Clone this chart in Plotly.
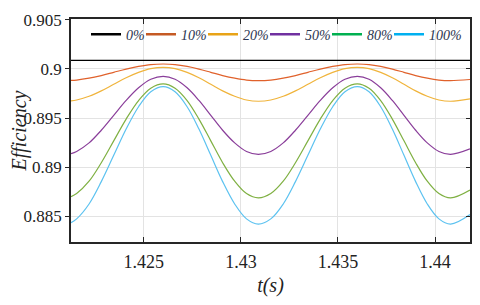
import plotly.graph_objects as go

# time samples (s)
t = [1.42125, 1.42154, 1.42218, 1.42281, 1.42345, 1.42409, 1.42473, 1.42536, 1.42600,
     1.42661, 1.42723, 1.42784, 1.42845, 1.42906, 1.42968, 1.43029, 1.43090,
     1.43154, 1.43218, 1.43281, 1.43345, 1.43409, 1.43473, 1.43536, 1.43600,
     1.43660, 1.43720, 1.43780, 1.43840, 1.43900, 1.43960, 1.44020, 1.44080, 1.44180]

eff_0 = [0.90088] * len(t)
eff_10 = [0.89883, 0.89887, 0.89906, 0.89933, 0.89966, 0.89999, 0.90026, 0.90045, 0.90051,
          0.90045, 0.90026, 0.89999, 0.89966, 0.89933, 0.89906, 0.89887, 0.89881,
          0.89887, 0.89906, 0.89933, 0.89966, 0.89999, 0.90026, 0.90045, 0.90051,
          0.90045, 0.90026, 0.89999, 0.89966, 0.89933, 0.89906, 0.89887, 0.89881, 0.89893]
eff_20 = [0.89674, 0.89684, 0.89722, 0.89777, 0.89844, 0.89910, 0.89965, 0.90003, 0.90016,
          0.90003, 0.89965, 0.89910, 0.89844, 0.89777, 0.89722, 0.89684, 0.89671,
          0.89684, 0.89722, 0.89777, 0.89844, 0.89910, 0.89965, 0.90003, 0.90016,
          0.90003, 0.89965, 0.89910, 0.89844, 0.89777, 0.89722, 0.89684, 0.89671, 0.89695]
eff_50 = [0.89137, 0.89159, 0.89246, 0.89375, 0.89527, 0.89679, 0.89808, 0.89895, 0.89925,
          0.89895, 0.89808, 0.89679, 0.89527, 0.89375, 0.89246, 0.89159, 0.89129,
          0.89159, 0.89246, 0.89375, 0.89527, 0.89679, 0.89808, 0.89895, 0.89925,
          0.89895, 0.89808, 0.89679, 0.89527, 0.89375, 0.89246, 0.89159, 0.89129, 0.89185]
eff_80 = [0.88697, 0.88729, 0.88855, 0.89044, 0.89267, 0.89489, 0.89678, 0.89804, 0.89848,
          0.89804, 0.89678, 0.89489, 0.89267, 0.89044, 0.88855, 0.88729, 0.88685,
          0.88729, 0.88855, 0.89044, 0.89267, 0.89489, 0.89678, 0.89804, 0.89848,
          0.89804, 0.89678, 0.89489, 0.89267, 0.89044, 0.88855, 0.88729, 0.88685, 0.88766]
eff_100 = [0.88432, 0.88471, 0.88623, 0.88851, 0.89119, 0.89387, 0.89615, 0.89767, 0.89820,
           0.89767, 0.89615, 0.89387, 0.89119, 0.88851, 0.88623, 0.88471, 0.88418,
           0.88471, 0.88623, 0.88851, 0.89119, 0.89387, 0.89615, 0.89767, 0.89820,
           0.89767, 0.89615, 0.89387, 0.89119, 0.88851, 0.88623, 0.88471, 0.88418, 0.88516]

labels = ["0%", "10%", "20%", "50%", "80%", "100%"]
series = [eff_0, eff_10, eff_20, eff_50, eff_80, eff_100]
line_colors = ["#000000", "#E0612B", "#F0B43C", "#8A3E9A", "#7FB042", "#5CC2F0"]
legend_colors = ["#000000", "#C55A24", "#E8A317", "#7030A0", "#00B050", "#00B0F0"]

x_ticks = [1.425, 1.43, 1.435, 1.44]
x_ticktext = ["1.425", "1.43", "1.435", "1.44"]
y_ticks = [0.885, 0.89, 0.895, 0.9, 0.905]
y_ticktext = ["0.885", "0.89", "0.895", "0.9", "0.905"]

serif = "Liberation Serif, Times New Roman, serif"
legend_font = dict(family=serif, size=14, color="#2b3550", style="italic")
legend_x = [0.0376, 0.1754, 0.3308, 0.4862, 0.6416, 0.7970]
legend_ids = ["legend", "legend2", "legend3", "legend4", "legend5", "legend6"]

fig = go.Figure()
for name, ys, lc in zip(labels, series, line_colors):
    fig.add_trace(go.Scatter(x=t, y=ys, mode="lines", name=name, showlegend=False,
                             line=dict(color=lc, width=1.2, shape="spline", smoothing=1.0)))
for name, lc, lid in zip(labels, legend_colors, legend_ids):
    fig.add_trace(go.Scatter(x=[None], y=[None], mode="lines", name=name, legend=lid,
                             line=dict(color=lc, width=2.5)))
fig.add_trace(go.Scatter(x=[None], y=[None], yaxis="y2", showlegend=False, hoverinfo="skip"))

legend_layout = {
    lid: dict(orientation="h", x=lx, y=0.93, xanchor="left", yanchor="middle",
              bgcolor="rgba(0,0,0,0)", font=legend_font, itemwidth=30)
    for lid, lx in zip(legend_ids, legend_x)
}

fig.update_layout(
    # page body has an 8px default margin, so the figure is offset by 8px
    width=472, height=297,
    margin=dict(l=63, r=10, t=11, b=63, autoexpand=False),
    paper_bgcolor="white", plot_bgcolor="white",
    font=dict(family=serif, size=17, color="#222222"),
    xaxis=dict(range=[1.42125, 1.4418], tickvals=x_ticks, ticktext=x_ticktext,
               tickfont=dict(size=18),
               showgrid=True, gridcolor="#E3E3E3", gridwidth=1,
               showline=True, linecolor="#262626", linewidth=1.5, mirror="ticks",
               ticks="inside", ticklen=5, tickcolor="#262626", ticklabelstandoff=3,
               zeroline=False,
               title=dict(text="<i>t(s)</i>", font=dict(family=serif, size=20), standoff=7)),
    yaxis=dict(range=[0.88235, 0.90510], tickvals=y_ticks, ticktext=y_ticktext,
               tickfont=dict(size=17),
               showgrid=True, gridcolor="#E3E3E3", gridwidth=1,
               showline=True, linecolor="#262626", linewidth=1.5, mirror=True,
               ticks="outside", ticklen=4, tickcolor="#262626",
               zeroline=False,
               title=dict(text="<i>Efficiency</i>", font=dict(family=serif, size=20), standoff=10)),
    yaxis2=dict(range=[0.88235, 0.90510], tickvals=y_ticks, overlaying="y", side="right",
                showticklabels=False, showgrid=False, ticks="inside", ticklen=4,
                tickcolor="#262626", zeroline=False),
    **legend_layout,
)

fig.write_html("out.html")
